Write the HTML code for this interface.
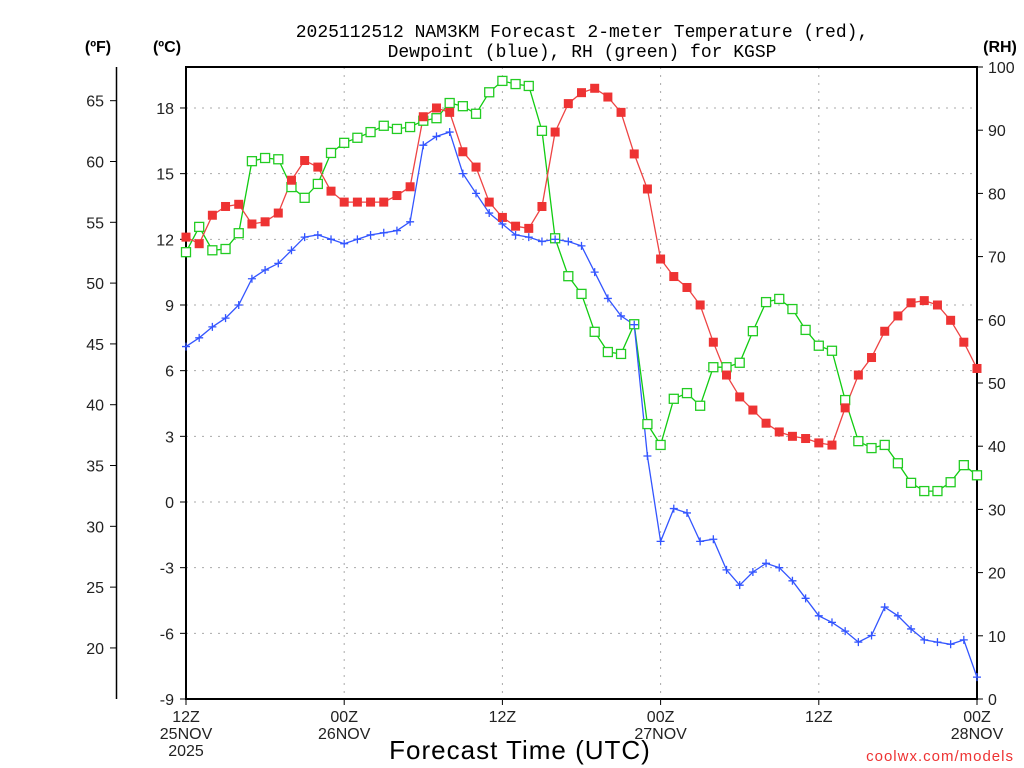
<!DOCTYPE html>
<html><head><meta charset="utf-8"><style>
body{margin:0;background:#fff;}
svg{display:block;font-family:"Liberation Sans",sans-serif;}
</style></head><body>
<svg id="chart" width="1024" height="768">
<g id="grid"></g>
<g id="axes"></g>
<g id="series"></g>
<text x="582" y="37" font-size="18" font-family="Liberation Mono, monospace" text-anchor="middle">2025112512 NAM3KM Forecast 2-meter Temperature (red),</text>
<text x="582" y="57" font-size="18" font-family="Liberation Mono, monospace" text-anchor="middle">Dewpoint (blue), RH (green) for KGSP</text>
<text x="98" y="52" font-size="16" font-weight="bold" text-anchor="middle">(ºF)</text>
<text x="167" y="52" font-size="16" font-weight="bold" text-anchor="middle">(ºC)</text>
<text x="1000" y="52" font-size="16" font-weight="bold" text-anchor="middle">(RH)</text>
<text x="520" y="759" font-size="26" text-anchor="middle" letter-spacing="1">Forecast Time (UTC)</text>
<text x="1014" y="761" font-size="15" fill="#ee3333" text-anchor="end" letter-spacing="1">coolwx.com/models</text>
</svg>
<script>
const hours = [];
for (let i = 0; i <= 60; i++) hours.push(i);
const tempC = [12.1,11.8,13.1,13.5,13.6,12.7,12.8,13.2,14.7,15.6,15.3,14.2,13.7,13.7,13.7,13.7,14.0,14.4,17.6,18.0,17.8,16.0,15.3,13.7,13.0,12.6,12.5,13.5,16.9,18.2,18.7,18.9,18.5,17.8,15.9,14.3,11.1,10.3,9.8,9.0,7.3,5.8,4.8,4.2,3.6,3.2,3.0,2.9,2.7,2.6,4.3,5.8,6.6,7.8,8.5,9.1,9.2,9.0,8.3,7.3,6.1];
const dewC = [7.1,7.5,8.0,8.4,9.0,10.2,10.6,10.9,11.5,12.1,12.2,12.0,11.8,12.0,12.2,12.3,12.4,12.8,16.3,16.7,16.9,15.0,14.1,13.2,12.7,12.2,12.1,11.9,12.0,11.9,11.7,10.5,9.3,8.5,8.1,2.1,-1.8,-0.3,-0.5,-1.8,-1.7,-3.1,-3.8,-3.2,-2.8,-3.0,-3.6,-4.4,-5.2,-5.5,-5.9,-6.4,-6.1,-4.8,-5.2,-5.8,-6.3,-6.4,-6.5,-6.3,-8.0];
const rh = [70.7,74.7,71.0,71.2,73.7,85.1,85.6,85.4,81.0,79.3,81.5,86.4,88.0,88.8,89.7,90.7,90.2,90.5,91.5,91.9,94.3,93.8,92.6,96.0,97.8,97.3,97.0,89.9,72.9,66.9,64.1,58.1,54.9,54.6,59.3,43.5,40.2,47.5,48.4,46.4,52.5,52.5,53.2,58.2,62.8,63.3,61.7,58.4,55.9,55.1,47.3,40.8,39.7,40.2,37.3,34.2,32.9,32.9,34.3,37.0,35.4];
const cTicks = [-9,-6,-3,0,3,6,9,12,15,18];
const fTicks = [20,25,30,35,40,45,50,55,60,65];
const rhTicks = [0,10,20,30,40,50,60,70,80,90,100];
const xTickHours = [0,12,24,36,48,60];
const xTickLabels = [["12Z","25NOV","2025"],["00Z","26NOV"],["12Z"],["00Z","27NOV"],["12Z"],["00Z","28NOV"]];

const NS = "http://www.w3.org/2000/svg";
const L = 186, R = 977, T = 67, B = 699;
const xS = h => L + (R - L) * h / 60;
const yC = c => 502 - c * 21.89;
const yF = f => yC((f - 32) * 5 / 9);
const yRH = v => B - (B - T) * v / 100;
function mk(tag, attrs, parent, text) {
  const e = document.createElementNS(NS, tag);
  for (const k in attrs) e.setAttribute(k, attrs[k]);
  if (text !== undefined) e.textContent = text;
  parent.appendChild(e);
  return e;
}
const grid = document.getElementById('grid');
const axes = document.getElementById('axes');
const series = document.getElementById('series');

cTicks.forEach(c => {
  const y = yC(c);
  if (c > -9) {
    const g = mk('line', {x1: L, x2: R, y1: y, y2: y, stroke: '#aaa', 'stroke-dasharray': '2,6'}, grid);
    
    
  }
  const tk = mk('line', {x1: L - 6, x2: L, y1: y, y2: y, stroke: '#000'}, axes);
  
  
  const t = mk('text', {x: L - 12, y: y + 6, 'font-size': 16, 'text-anchor': 'end', fill: '#222'}, axes, c);
  
  
});
xTickHours.forEach((h, i) => {
  const x = xS(h);
  if (h > 0 && h < 60) {
    const g = mk('line', {x1: x, x2: x, y1: T, y2: B, stroke: '#aaa', 'stroke-dasharray': '2,6'}, grid);
    
    
  }
  const tk = mk('line', {x1: x, x2: x, y1: B, y2: B + 6, stroke: '#000'}, axes);
  
  
  xTickLabels[i].forEach((s, j) => {
    const t = mk('text', {x: x, y: 722 + j * 17, 'font-size': 16, 'text-anchor': 'middle', fill: '#222'}, axes, s);
    
    
  });
});
fTicks.forEach(f => {
  const y = yF(f);
  const tk = mk('line', {x1: 110, x2: 116, y1: y, y2: y, stroke: '#000'}, axes);
  
  
  const t = mk('text', {x: 104, y: y + 6, 'font-size': 16, 'text-anchor': 'end', fill: '#222'}, axes, f);
  
  
});
rhTicks.forEach(v => {
  const y = yRH(v);
  const tk = mk('line', {x1: R, x2: R + 6, y1: y, y2: y, stroke: '#000'}, axes);
  
  
  const t = mk('text', {x: 988, y: y + 6, 'font-size': 16, 'text-anchor': 'start', fill: '#222'}, axes, v);
  
  
});
const fl = mk('line', {x1: 116.5, x2: 116.5, y1: T, y2: B, stroke: '#000', 'stroke-width': 1.5}, axes);


const frame = mk('rect', {x: L, y: T, width: R - L, height: B - T, fill: 'none', stroke: '#000', 'stroke-width': 2}, axes);



function drawLine(vals, yf, color, name) {
  const pts = vals.map((v, i) => xS(hours[i]).toFixed(1) + ',' + yf(v).toFixed(1)).join(' ');
  const p = mk('polyline', {points: pts, fill: 'none', stroke: color, 'stroke-width': 1.3}, series);
  
  
}
drawLine(rh, yRH, '#11cc11', 'rh');
drawLine(tempC, yC, '#ee4444', 'temperature');
drawLine(dewC, yC, '#3355ff', 'dewpoint');
rh.forEach((v, i) => {
  const m = mk('rect', {x: xS(hours[i]) - 4.5, y: yRH(v) - 4.5, width: 9, height: 9, fill: '#fff', stroke: '#22cc22', 'stroke-width': 1.3}, series);
  
  
});
tempC.forEach((v, i) => {
  const m = mk('rect', {x: xS(hours[i]) - 4.5, y: yC(v) - 4.5, width: 9, height: 9, fill: '#ee3333'}, series);
  
  
});
dewC.forEach((v, i) => {
  const x = xS(hours[i]), y = yC(v);
  const m = mk('path', {d: `M${x-4},${y}H${x+4}M${x},${y-4}V${y+4}`, stroke: '#3355ff', 'stroke-width': 1.3, fill: 'none'}, series);
  
  
});
</script>
</body></html>
